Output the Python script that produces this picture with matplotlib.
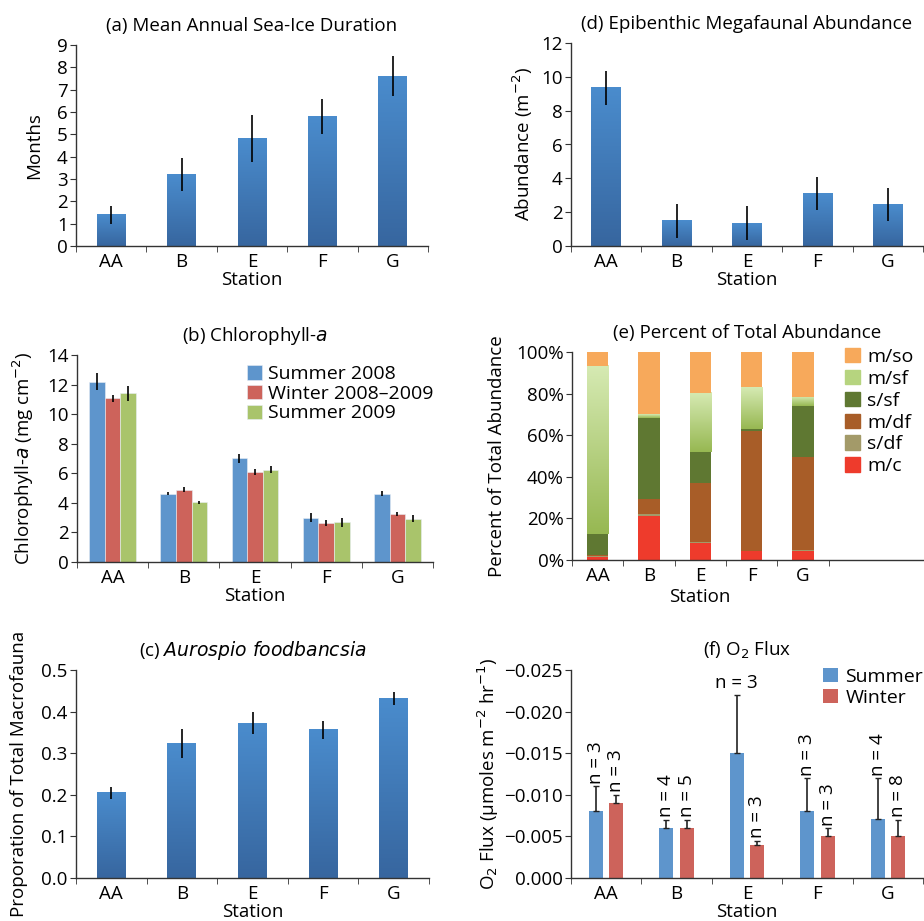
import numpy as np
import matplotlib
matplotlib.use("Agg")
import matplotlib.pyplot as plt
from matplotlib.colors import LinearSegmentedColormap
from matplotlib.ticker import FixedLocator, FuncFormatter
from matplotlib.patches import Patch

plt.rcParams['font.family'] = ['Open Sans', 'DejaVu Sans']
plt.rcParams['font.size'] = 13.5

stations = ['AA', 'B', 'E', 'F', 'G']

# (a) sea ice duration
ice = [1.4, 3.2, 4.8, 5.8, 7.6]
ice_err = [0.4, 0.75, 1.05, 0.8, 0.9]

# (b) chlorophyll-a
chl_s08 = [12.2, 4.63, 7.02, 3.0, 4.63]
chl_s08_err = [0.6, 0.1, 0.3, 0.32, 0.18]
chl_w = [11.06, 4.9, 6.1, 2.64, 3.25]
chl_w_err = [0.25, 0.15, 0.2, 0.2, 0.15]
chl_s09 = [11.42, 4.04, 6.25, 2.69, 2.93]
chl_s09_err = [0.5, 0.1, 0.22, 0.3, 0.22]

# (c) Aurospio foodbancsia
auro = [0.205, 0.324, 0.372, 0.356, 0.432]
auro_err = [0.014, 0.035, 0.027, 0.021, 0.016]

# (d) megafaunal abundance
mega = [9.35, 1.5, 1.35, 3.1, 2.45]
mega_err = [1.0, 1.0, 1.0, 1.0, 1.0]

# (e) percent of total abundance (bottom to top)
groups = ['m/c', 's/df', 'm/df', 's/sf', 'm/sf', 'm/so']
pct = {
    'm/c':  [1.5, 21.3, 8.0, 4.2, 4.5],
    's/df': [0.5, 0.8, 0.5, 0.3, 0.3],
    'm/df': [0.5, 7.2, 28.3, 57.5, 44.8],
    's/sf': [10.0, 39.0, 15.0, 1.0, 24.4],
    'm/sf': [81.0, 1.7, 28.7, 20.0, 4.6],
    'm/so': [6.5, 30.0, 19.5, 17.0, 21.4],
}

# (f) O2 flux
o2_sum = [-0.008, -0.006, -0.015, -0.008, -0.0071]
o2_sum_err = [0.003, 0.001, 0.007, 0.004, 0.0049]
o2_win = [-0.009, -0.006, -0.004, -0.005, -0.005]
o2_win_err = [0.001, 0.001, 0.0005, 0.001, 0.002]
n_sum = [3, 4, 3, 3, 4]
n_win = [3, 5, 3, 3, 8]

W, H = 924, 921
fig = plt.figure(figsize=(W / 100, H / 100), dpi=100)


def add_ax(l, r, t, b):
    return fig.add_axes([l / W, (H - b) / H, (r - l) / W, (b - t) / H])


def style(ax, ncat=5, xmax=4.5, ylx=-0.1):
    for s in ['top', 'right']:
        ax.spines[s].set_visible(False)
    for s in ['left', 'bottom']:
        ax.spines[s].set_color('#333333')
        ax.spines[s].set_linewidth(1.0)
    ax.set_xlim(-0.5, xmax)
    ax.xaxis.set_major_locator(FixedLocator(np.arange(ncat)))
    ax.set_xticklabels(stations)
    ax.xaxis.set_minor_locator(FixedLocator(np.arange(ncat + 1) - 0.5))
    ax.tick_params(axis='x', which='major', length=0, pad=5)
    ax.tick_params(axis='x', which='minor', length=4, color='#333333')
    ax.tick_params(axis='y', length=4, color='#333333', pad=2)
    ax.set_xlabel('Station', labelpad=0)
    ax.yaxis.set_label_coords(ylx, 0.5)


def grad_bars(ax, bars, top, bot):
    cmap = LinearSegmentedColormap.from_list('g', [bot, top])
    img = np.linspace(0, 1, 128).reshape(-1, 1)
    for b in bars:
        x, y, w, h = b.get_x(), b.get_y(), b.get_width(), b.get_height()
        b.set_alpha(0)
        ax.imshow(img, cmap=cmap, extent=[x, x + w, y, y + h], origin='lower',
                  aspect='auto', zorder=2, interpolation='bilinear')


x = np.arange(5)
BT, BB = '#4A8CCD', '#37669F'
TPAD = 10

# (a)
ax = add_ax(76, 428, 45, 246)
bars = ax.bar(x, ice, 0.41)
grad_bars(ax, bars, BT, BB)
ax.errorbar(x, ice, yerr=ice_err, fmt='none', ecolor='black', elinewidth=1.2, zorder=3)
style(ax, ylx=-0.094)
ax.set_ylim(0, 9)
ax.set_yticks(range(10))
ax.set_ylabel('Months')
ax.set_title('(a) Mean Annual Sea-Ice Duration', fontsize=13.5, pad=TPAD)

# (b)
ax = add_ax(77, 433, 355, 562)
bw = 0.22
cols = ['#5E95CC', '#CD635B', '#A9C46B']
series = [(chl_s08, chl_s08_err, 'Summer 2008'),
          (chl_w, chl_w_err, 'Winter 2008\u20132009'),
          (chl_s09, chl_s09_err, 'Summer 2009')]
for i, (v, e, lab) in enumerate(series):
    pos = x + (i - 1) * bw
    ax.bar(pos, v, bw, color=cols[i], label=lab, edgecolor='#E8EEF5', linewidth=0.4, zorder=2)
    ax.errorbar(pos, v, yerr=e, fmt='none', ecolor='black', elinewidth=1.2, zorder=3)
style(ax, ylx=-0.115)
ax.set_ylim(0, 14)
ax.set_yticks(range(0, 15, 2))
ax.set_ylabel('Chlorophyll-$\\it{a}$ (mg cm$^{-2}$)')
ax.set_title('(b) Chlorophyll-$\\it{a}$', fontsize=13.5, pad=TPAD)
ax.legend(loc='upper left', bbox_to_anchor=(0.478, 0.95), frameon=False, handlelength=0.75,
          handleheight=0.75, handletextpad=0.3, labelspacing=0.08, borderpad=0,
          borderaxespad=0, fontsize=14)

# (c)
ax = add_ax(76, 429, 670, 878)
bars = ax.bar(x, auro, 0.41)
grad_bars(ax, bars, BT, BB)
ax.errorbar(x, auro, yerr=auro_err, fmt='none', ecolor='black', elinewidth=1.2, zorder=3)
style(ax, ylx=-0.136)
ax.set_ylim(0, 0.5)
ax.set_yticks(np.arange(0, 0.51, 0.1))
ax.yaxis.set_major_formatter(FuncFormatter(lambda v, p: '%.1f' % v))
ax.set_ylabel('Proporation of Total Macrofauna')
ax.set_title('(c) $\\it{Aurospio\\ foodbancsia}$', fontsize=13.5, pad=TPAD)

# (d)
ax = add_ax(571, 923, 43, 246)
bars = ax.bar(x, mega, 0.42)
grad_bars(ax, bars, BT, BB)
ax.errorbar(x, mega, yerr=mega_err, fmt='none', ecolor='black', elinewidth=1.2, zorder=3)
style(ax, ylx=-0.102)
ax.set_ylim(0, 12)
ax.set_yticks(range(0, 13, 2))
ax.set_ylabel('Abundance (m$^{-2}$)')
ax.set_title('(d) Epibenthic Megafaunal Abundance', fontsize=13.5, pad=TPAD)

# (e)
ax = add_ax(572, 923, 352, 560)
ecol = {'m/c': ('#EE3B2C', '#EE3B2C'), 's/df': ('#A39A69', '#A39A69'),
        'm/df': ('#A85D28', '#A85D28'), 's/sf': ('#5F7832', '#5F7832'),
        'm/sf': ('#D6EAB3', '#97B852'), 'm/so': ('#F7A95B', '#F7A95B')}
bottom = np.zeros(5)
for g in groups:
    v = np.array(pct[g])
    top, bot = ecol[g]
    bars = ax.bar(x, v, 0.415, bottom=bottom, color=bot, zorder=2)
    if top != bot:
        grad_bars(ax, bars, top, bot)
    bottom += v
style(ax, xmax=6.34, ylx=-0.188)
ax.set_ylim(0, 100)
ax.set_yticks(range(0, 101, 20))
ax.yaxis.set_major_formatter(FuncFormatter(lambda v, p: '%d%%' % v))
ax.set_ylabel('Percent of Total Abundance')
ax.xaxis.set_label_coords(0.365, -0.135)
ax.set_title('(e) Percent of Total Abundance', fontsize=13.5, pad=TPAD)
handles = [Patch(color=ecol[g][1] if g != 'm/sf' else '#B6D47F', label=g) for g in groups[::-1]]
ax.legend(handles=handles, loc='upper left', bbox_to_anchor=(0.778, 1.02), frameon=False,
          handlelength=0.75, handleheight=0.75, handletextpad=0.4, labelspacing=0.2,
          borderpad=0, borderaxespad=0, fontsize=14)

# (f)
ax = add_ax(571, 923, 670, 878)
off, bw = 0.145, 0.2
ax.bar(x - off, o2_sum, bw, color='#5E95CC', label='Summer', zorder=2)
ax.bar(x + off, o2_win, bw, color='#CD635B', label='Winter', zorder=2)
ax.errorbar(x - off, o2_sum, yerr=[o2_sum_err, np.zeros(5)], fmt='none', ecolor='#222222',
            elinewidth=1.2, capsize=2, zorder=3)
ax.errorbar(x + off, o2_win, yerr=[o2_win_err, np.zeros(5)], fmt='none', ecolor='#222222',
            elinewidth=1.2, capsize=2, zorder=3)
for i in range(5):
    ts = o2_sum[i] - o2_sum_err[i]
    tw = o2_win[i] - o2_win_err[i]
    if stations[i] == 'E':
        ax.text(x[i] - off, ts - 0.0004, 'n = %d' % n_sum[i], ha='center', va='bottom')
    else:
        ax.text(x[i] - off, ts - 0.0003, 'n = %d' % n_sum[i], ha='center', va='bottom',
                rotation=90)
    ax.text(x[i] + off, tw - 0.0003, 'n = %d' % n_win[i], ha='center', va='bottom', rotation=90)
style(ax, ylx=-0.2)
ax.set_ylim(0, -0.025)
ax.set_yticks(np.arange(0, -0.0251, -0.005))
ax.yaxis.set_major_formatter(FuncFormatter(
    lambda v, p: '0.000' if abs(v) < 1e-9 else ('%.3f' % v).replace('-', '\u2212')))
ax.set_ylabel('O$_2$ Flux (\u00b5moles m$^{-2}$ hr$^{-1}$)')
ax.set_title('(f) O$_2$ Flux', fontsize=13.5, pad=TPAD)
ax.legend(loc='upper left', bbox_to_anchor=(0.716, 1.01), frameon=False, handlelength=0.75,
          handleheight=0.75, handletextpad=0.4, labelspacing=0.15, borderpad=0,
          borderaxespad=0, fontsize=14)

fig.savefig('out.png', dpi=100)
